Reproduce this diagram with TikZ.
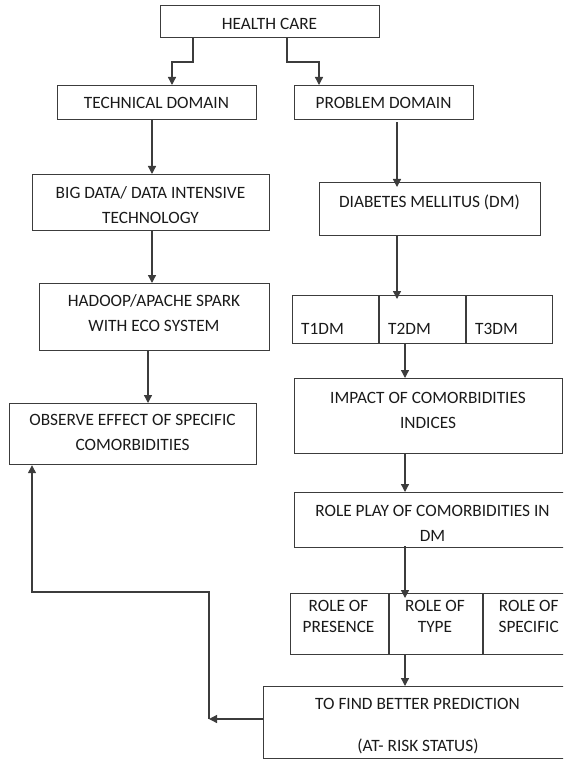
\documentclass[tikz,border=0pt]{standalone}
\usepackage{fontspec}
\setmainfont{Carlito}
\usetikzlibrary{arrows.meta}
\definecolor{linec}{HTML}{3C3C3C}
\definecolor{textc}{HTML}{1A1A1A}
\tikzset{
  box/.style={draw=linec, line width=1.2pt, rectangle, inner sep=0pt, anchor=north west},
  txt/.style={text=textc, font=\fontsize{17.3}{25}\selectfont, align=center, inner sep=0pt, anchor=base},
  txtb/.style={txt, font=\fontsize{17.3}{21}\selectfont},
  arr/.style={draw=linec, line width=1.3pt, -{Triangle[length=8pt,width=8pt]}},
  sep/.style={draw=linec, line width=1.2pt}
}
\begin{document}
\begin{tikzpicture}[x=1pt,y=-1pt]
\useasboundingbox (0,0) rectangle (563,759);
\clip (0,0) rectangle (563,759);
% boxes
\node[box, minimum width=219pt, minimum height=32pt] (hc) at (160,5) {};
\node[box, minimum width=199pt, minimum height=34pt] (tech) at (57,85) {};
\node[box, minimum width=179pt, minimum height=34pt] (prob) at (294,85) {};
\node[box, minimum width=237pt, minimum height=56pt] (big) at (32,174) {};
\node[box, minimum width=221pt, minimum height=53pt] (dm) at (319,182) {};
\node[box, minimum width=230pt, minimum height=67pt] (had) at (39,283) {};
\node[box, minimum width=260pt, minimum height=48pt] (tb) at (292,295) {};
\node[box, minimum width=268pt, minimum height=75pt] (imp) at (294,378) {};
\node[box, minimum width=247pt, minimum height=61pt] (obs) at (9,403) {};
\node[box, minimum width=280pt, minimum height=55pt] (role) at (294,492) {};
\node[box, minimum width=290pt, minimum height=61pt] (roles) at (290,593) {};
\node[box, minimum width=320pt, minimum height=72pt] (find) at (263,686) {};
% dividers
\coordinate (d1) at (379,0);
\coordinate (d2) at (466,0);
\coordinate (d3) at (389,0);
\coordinate (d4) at (483,0);
\draw[sep] (tb.north -| d1) -- (tb.south -| d1);
\draw[sep] (tb.north -| d2) -- (tb.south -| d2);
\draw[sep] (roles.north -| d3) -- (roles.south -| d3);
\draw[sep] (roles.north -| d4) -- (roles.south -| d4);
% texts (base anchor = baseline of the last line)
\node[txt] (thc) at (269.5,29.5) {HEALTH CARE};
\node[txt] (ttech) at (156.5,109) {TECHNICAL DOMAIN};
\node[txt] (tprob) at (383.5,109) {PROBLEM DOMAIN};
\node[txt] (tbig) at (150.5,223.5) {BIG DATA/ DATA INTENSIVE\\TECHNOLOGY};
\node[txt] (tdm) at (429.5,207.5) {DIABETES MELLITUS (DM)};
\node[txt] (thad) at (154,331.5) {HADOOP/APACHE SPARK\\WITH ECO SYSTEM};
\node[txt, anchor=base west] (t1) at (301,334.5) {T1DM};
\node[txt, anchor=base west] (t2) at (388,334.5) {T2DM};
\node[txt, anchor=base west] (t3) at (475,334.5) {T3DM};
\node[txt] (timp) at (428,428.5) {IMPACT OF COMORBIDITIES\\INDICES};
\node[txt] (tobs) at (132.5,450) {OBSERVE EFFECT OF SPECIFIC\\COMORBIDITIES};
\node[txt] (trole) at (432.5,541.5) {ROLE PLAY OF COMORBIDITIES IN\\DM};
\node[txtb] (tr1) at (338.5,632.5) {ROLE OF\\PRESENCE};
\node[txtb] (tr2) at (435,632.5) {ROLE OF\\TYPE};
\node[txtb] (tr3) at (528.7,632.5) {ROLE OF\\SPECIFIC};
\node[txt] (tf1) at (417.5,709) {TO FIND BETTER PREDICTION};
\node[txt] (tf2) at (418,751) {(AT- RISK STATUS)};
% connectors
\coordinate (ha) at (193,62);
\coordinate (hb) at (287,62);
\coordinate (xa) at (172,0);
\coordinate (xb) at (319,0);
\draw[arr] (hc.south -| ha) -- (ha) -| (tech.north -| xa);
\draw[arr] (hc.south -| hb) -- (hb) -| (prob.north -| xb);
\coordinate (x152) at (152,0);
\coordinate (x148) at (148,0);
\coordinate (x397) at (397,0);
\coordinate (x405) at (405,0);
\draw[arr] (tech.south -| x152) -- (big.north -| x152);
\draw[arr] (big.south -| x152) -- (had.north -| x152);
\draw[arr] (had.south -| x148) -- (obs.north -| x148);
\draw[arr] ([yshift=-2pt]prob.south -| x397) -- ([yshift=-5pt]dm.north -| x397);
\draw[arr] (dm.south -| x397) -- ([yshift=-4pt]tb.north -| x397);
\draw[arr] (tb.south -| x405) -- (imp.north -| x405);
\draw[arr] (imp.south -| x405) -- (role.north -| x405);
\draw[arr] ([yshift=2pt]role.south -| x405) -- ([yshift=-5pt]roles.north -| x405);
\draw[arr] (roles.south -| x405) -- (find.north -| x405);
\coordinate (fb) at (209,719);
\coordinate (fc) at (209,592);
\coordinate (x32) at (32,0);
\draw[arr] (find.west |- fb) -- (fb);
\draw[arr] (fb) -- (fc) -| (obs.south -| x32);
\end{tikzpicture}
\end{document}
